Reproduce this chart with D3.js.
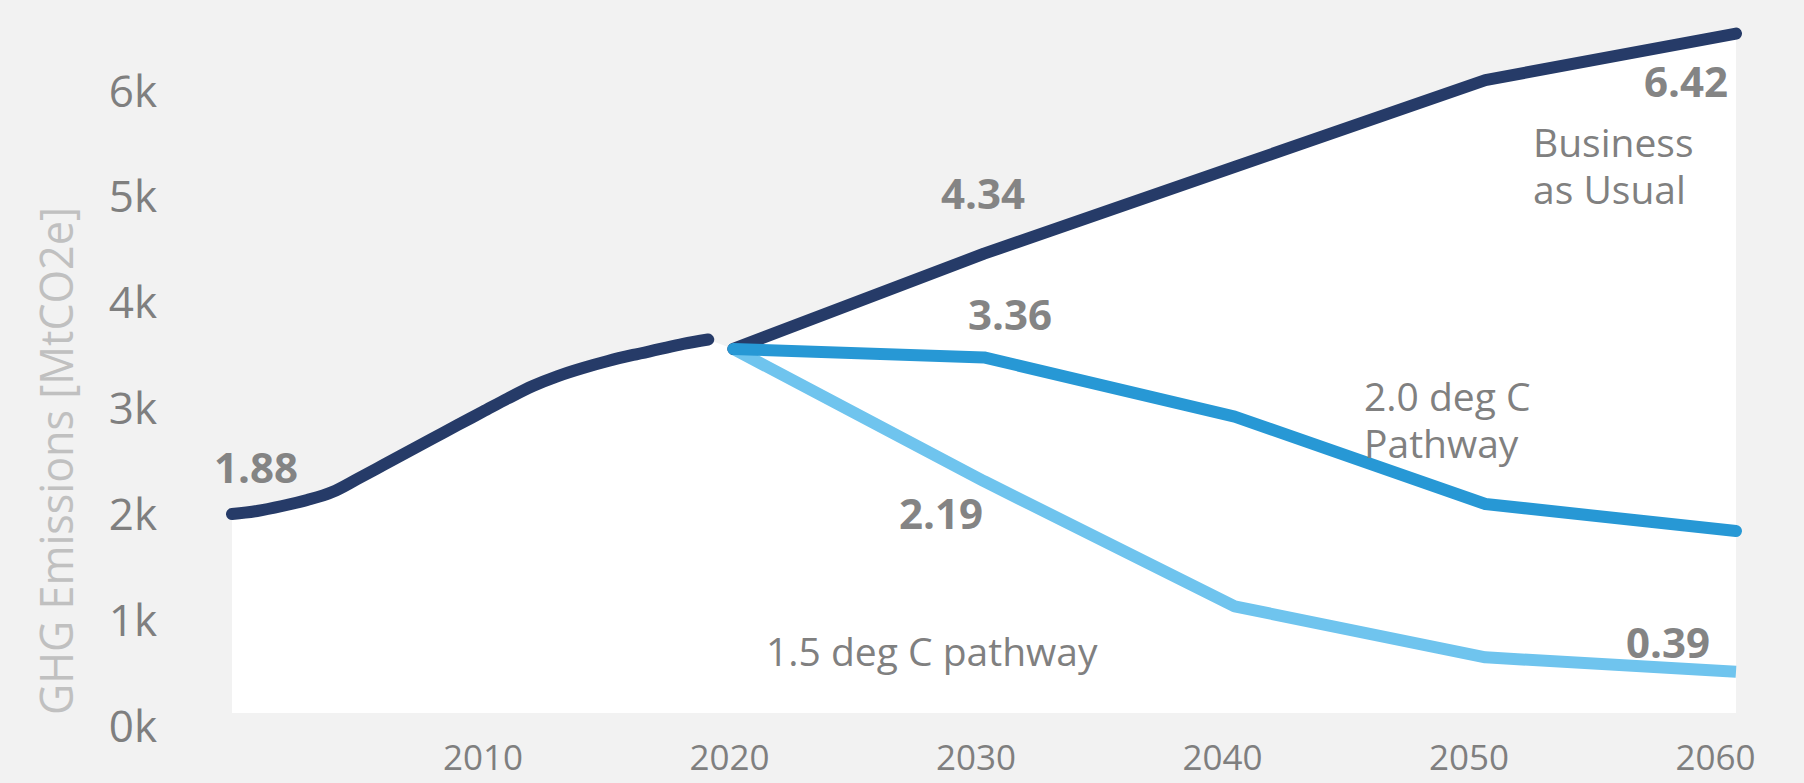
<!DOCTYPE html>
<html>
<head>
<meta charset="utf-8">
<script src="https://cdn.jsdelivr.net/npm/d3@7/dist/d3.min.js"></script>
<style>
  html, body { margin: 0; padding: 0; background: #f2f2f2; }
  svg { display: block; font-family: "Open Sans", "Noto Sans", sans-serif; }
</style>
</head>
<body>
<svg id="chart" width="1804" height="783"></svg>
<script>
// Historic emissions (MtCO2e)
const histYears = [2000, 2001, 2002, 2003, 2004, 2005, 2006, 2007, 2008, 2009,
                   2010, 2011, 2012, 2013, 2014, 2015, 2016, 2017, 2018, 2019];
const histValues = [1880, 1909, 1956, 2013, 2088, 2211, 2338, 2466, 2593, 2721,
                    2846, 2972, 3090, 3184, 3260, 3326, 3383, 3435, 3487, 3529];

// Projection scenarios (MtCO2e)
const projYears = [2020, 2030, 2040, 2050, 2060];
const bauValues = [3440, 4340, 5160, 5980, 6420];
const deg20Values = [3440, 3360, 2800, 1975, 1720];
const deg15Values = [3440, 2190, 1008, 526, 390];

// Axis ticks
const yTickValues = [0, 1000, 2000, 3000, 4000, 5000, 6000];
const xTickValues = [2010, 2020, 2030, 2040, 2050, 2060];

const svg = d3.select("#chart");
const W = 1804, H = 783;

const x = d3.scaleLinear().domain([2000, 2060]).range([232, 1736]);
const xLabelTrack = d3.scaleLinear().domain([2000, 2060]).range([236, 1715]);
const y = d3.scaleLinear().domain([0, 6000]).range([713, 78]);

const zip = (xs, vs) => xs.map((yr, i) => ({ year: yr, value: vs[i] }));
const hist = zip(histYears, histValues);
const bau = zip(projYears, bauValues);
const deg20 = zip(projYears, deg20Values);
const deg15 = zip(projYears, deg15Values);

svg.append("rect").attr("width", W).attr("height", H).attr("fill", "#f2f2f2");

// White area under the historic + business-as-usual trajectory
const area = d3.area()
  .x(d => x(d.year))
  .y0(y(0))
  .y1(d => y(d.value));
svg.append("path")
  .datum(hist.concat(bau))
  .attr("fill", "#ffffff")
  .attr("d", area);

// Y axis
const yAxis = d3.axisLeft(y)
  .tickValues(yTickValues)
  .tickFormat(d => (d / 1000) + "k")
  .tickSize(0)
  .tickPadding(0);
const gy = svg.append("g").attr("transform", "translate(157,0)").call(yAxis);
gy.select(".domain").remove();
gy.selectAll("text")
  .attr("dy", 28)
  .attr("fill", "#7f7f7f")
  .style("font-size", "44px")
  .style("font-family", "'Open Sans', sans-serif");

// X axis
const xAxis = d3.axisBottom(xLabelTrack)
  .tickValues(xTickValues)
  .tickFormat(d3.format("d"))
  .tickSize(0)
  .tickPadding(0);
const gx = svg.append("g").attr("transform", `translate(0,${y(0)})`).call(xAxis);
gx.select(".domain").remove();
gx.selectAll("text")
  .attr("y", 0)
  .attr("dy", 57)
  .attr("fill", "#7f7f7f")
  .style("font-size", "35px")
  .style("font-family", "'Open Sans', sans-serif");

// Y axis title
svg.append("text")
  .attr("transform", `translate(73,461) rotate(-90)`)
  .attr("text-anchor", "middle")
  .attr("textLength", 508)
  .attr("lengthAdjust", "spacingAndGlyphs")
  .attr("fill", "#c0c0c0")
  .style("font-size", "46px")
  .style("font-weight", 400)
  .text("GHG Emissions [MtCO2e]");

// Lines
const smooth = d3.line().x(d => x(d.year)).y(d => y(d.value)).curve(d3.curveMonotoneX);
const straight = d3.line().x(d => x(d.year)).y(d => y(d.value));

svg.append("path").datum(deg15)
  .attr("fill", "none").attr("stroke", "#6fc4ee").attr("stroke-width", 12)
  .attr("stroke-linejoin", "round").attr("stroke-linecap", "butt")
  .attr("d", straight);

svg.append("path").datum(hist)
  .attr("fill", "none").attr("stroke", "#263b68").attr("stroke-width", 12)
  .attr("stroke-linejoin", "round").attr("stroke-linecap", "round")
  .attr("d", smooth);

svg.append("path").datum(bau)
  .attr("fill", "none").attr("stroke", "#263b68").attr("stroke-width", 12)
  .attr("stroke-linejoin", "round").attr("stroke-linecap", "round")
  .attr("d", straight);

svg.append("path").datum(deg20)
  .attr("fill", "none").attr("stroke", "#2798d5").attr("stroke-width", 12)
  .attr("stroke-linejoin", "round").attr("stroke-linecap", "round")
  .attr("d", straight);

// Value labels (GtCO2e) next to their points
const valueLabels = [
  { pt: hist[0], anchor: "start", dx: -18, dy: -31 },
  { pt: bau[1], anchor: "middle", dx: -1, dy: -45 },
  { pt: deg20[1], anchor: "middle", dx: 26, dy: -27 },
  { pt: deg15[1], anchor: "middle", dx: -43, dy: 48 },
  { pt: bau[4], anchor: "end", dx: -8, dy: 63 },
  { pt: deg15[4], anchor: "end", dx: -26, dy: -14 }
];
svg.selectAll("text.val").data(valueLabels).join("text")
  .attr("class", "val")
  .attr("x", d => x(d.pt.year) + d.dx)
  .attr("y", d => y(d.pt.value) + d.dy)
  .attr("text-anchor", d => d.anchor)
  .attr("fill", "#848484")
  .style("font-size", "42px")
  .style("font-weight", 700)
  .text(d => (d.pt.value / 1000).toFixed(2));

// Scenario names
const names = [
  { lines: ["Business", "as Usual"], x: 1533, y: 157 },
  { lines: ["2.0 deg C", "Pathway"], x: 1364, y: 411 },
  { lines: ["1.5 deg C pathway"], x: 766, y: 666 }
];
names.forEach(n => {
  const t = svg.append("text")
    .attr("x", n.x).attr("y", n.y)
    .attr("fill", "#808080")
    .style("font-size", "39px");
  n.lines.forEach((ln, i) => {
    t.append("tspan").attr("x", n.x).attr("dy", i === 0 ? 0 : 47).text(ln);
  });
});
</script>
</body>
</html>
